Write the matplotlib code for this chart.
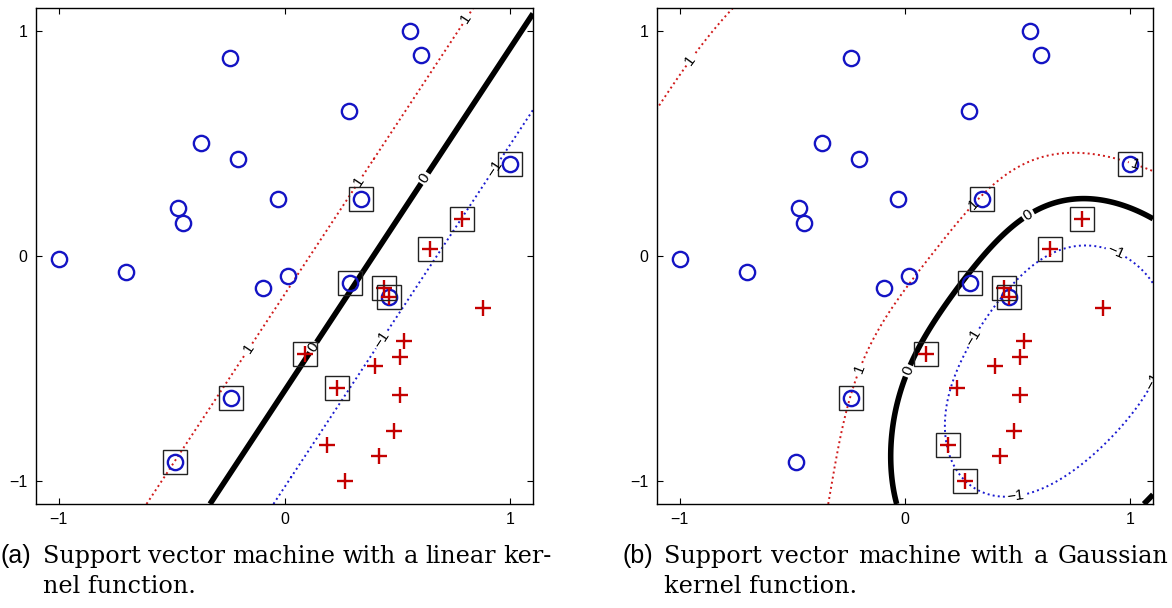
import matplotlib
matplotlib.use("Agg")
import matplotlib.pyplot as plt
import numpy as np

# ---- data points ----
circle_x = [-1.00, -0.70, -0.24, -0.37, -0.205, -0.47, -0.45, -0.03, 0.286, 0.555,
            0.605, 0.34, 1.00, 0.016, -0.095, 0.29, 0.463, -0.239, -0.485]
circle_y = [-0.015, -0.07, 0.88, 0.50, 0.43, 0.215, 0.145, 0.255, 0.645, 1.00,
            0.89, 0.255, 0.41, -0.09, -0.14, -0.12, -0.184, -0.628, -0.915]

plus_x = [0.786, 0.643, 0.44, 0.463, 0.88, 0.528, 0.51, 0.40, 0.092, 0.232,
          0.51, 0.485, 0.19, 0.42, 0.267]
plus_y = [0.162, 0.03, -0.143, -0.184, -0.232, -0.378, -0.447, -0.49, -0.434, -0.584,
          -0.618, -0.778, -0.838, -0.886, -1.00]

# support vectors (boxed points)
sv_lin_x = [0.34, 1.00, 0.29, 0.463, 0.44, -0.239, -0.485, 0.786, 0.643, 0.092, 0.232]
sv_lin_y = [0.255, 0.41, -0.12, -0.184, -0.143, -0.628, -0.915, 0.162, 0.03, -0.434, -0.584]

sv_rbf_x = [0.34, 1.00, 0.29, 0.463, 0.44, -0.239, 0.786, 0.643, 0.092, 0.19, 0.267]
sv_rbf_y = [0.255, 0.41, -0.12, -0.184, -0.143, -0.628, 0.162, 0.03, -0.434, -0.838, -1.00]

# linear decision function f = w.x + b
W_LIN = (-3.56, 2.34)
B_LIN = 1.40

# gaussian panel: points read on the 1 / 0 / -1 contours
lvl_pos_x = [-0.725, -0.93, -1.03, -1.10, -0.337, -0.32, -0.288, -0.239, -0.223, -0.126,
             -0.061, -0.029, 0.052, 0.149, 0.262, 0.34, 0.424, 0.57, 0.683, 0.78,
             0.942, 1.00, 1.10]
lvl_pos_y = [1.10, 0.85, 0.70, 0.575, -1.10, -0.99, -0.766, -0.628, -0.544, -0.351,
             -0.246, -0.17, -0.03, 0.044, 0.133, 0.255, 0.332, 0.428, 0.453, 0.457,
             0.435, 0.41, 0.369]
lvl_zero_x = [-0.037, -0.049, -0.057, -0.045, -0.029, 0.016, 0.094, 0.181, 0.278, 0.424,
              0.545, 0.78, 0.942, 1.10, 1.015, 1.10]
lvl_zero_y = [-1.10, -0.99, -0.84, -0.69, -0.603, -0.511, -0.395, -0.232, -0.059, 0.103,
              0.184, 0.265, 0.236, 0.162, -1.10, -1.005]
lvl_neg_x = [0.61, 0.78, 0.934, 1.02, 1.10, 1.10, 1.07, 0.91, 0.667, 0.489,
             0.343, 0.213, 0.173, 0.197, 0.327, 0.456, 0.52]
lvl_neg_y = [0.007, 0.06, 0.015, -0.044, -0.125, -0.47, -0.66, -0.87, -1.019, -1.056,
             -1.049, -0.915, -0.766, -0.544, -0.32, -0.187, -0.09]

# contour label spots
labels_lin = [(0.81, 1.05), (0.33, 0.33), (-0.16, -0.41), (0.629, 0.339), (0.128, -0.406),
              (0.93, 0.39), (0.43, -0.37)]
labels_rbf = [(-0.93, 0.85), (0.30, 0.236), (-0.20, -0.50), (1.02, 0.41), (0.545, 0.184),
              (0.016, -0.511), (0.934, 0.015), (0.311, -0.366), (0.489, -1.056), (1.087, -0.484)]

caption_a = ["Support vector machine with a linear ker-", "nel function."]
caption_b = ["Support vector machine with a Gaussian", "kernel function."]

BLUE = "#1414c4"
RED = "#c40000"
BLUE_L = "#1a1ad0"
RED_L = "#d01a1a"

plt.rcParams["font.family"] = ["Liberation Sans", "DejaVu Sans"]

W, H = 1172, 608
fig = plt.figure(figsize=(W / 100, H / 100), dpi=100)
ax_a = fig.add_axes([36 / W, 1 - 504 / H, 497 / W, 496 / H])
ax_b = fig.add_axes([657 / W, 1 - 504 / H, 496 / W, 496 / H])

g = np.linspace(-1.1, 1.1, 441)
X, Y = np.meshgrid(g, g)

F_lin = W_LIN[0] * X + W_LIN[1] * Y + B_LIN


# gaussian kernel expansion around the support vectors, fitted to the read contours
def kernel(px, py, s):
    px = np.asarray(px, float)[..., None]
    py = np.asarray(py, float)[..., None]
    d2 = (px - np.array(sv_rbf_x)) ** 2 + (py - np.array(sv_rbf_y)) ** 2
    return np.exp(-d2 / (2 * s * s))


cx = np.r_[lvl_pos_x, lvl_zero_x, lvl_neg_x]
cy = np.r_[lvl_pos_y, lvl_zero_y, lvl_neg_y]
ct = np.r_[np.ones(len(lvl_pos_x)), np.zeros(len(lvl_zero_x)), -np.ones(len(lvl_neg_x))]

best = None
for s in np.arange(0.40, 0.91, 0.05):
    A = np.column_stack([kernel(cx, cy, s), np.ones(len(cx))])
    coef = np.linalg.solve(A.T @ A + 1e-4 * np.eye(A.shape[1]), A.T @ ct)
    err = np.sum((A @ coef - ct) ** 2)
    if best is None or err < best[0]:
        best = (err, s, coef)
_, sigma, coef = best
F_rbf = kernel(X, Y, sigma) @ coef[:-1] + coef[-1]


def draw_panel(ax, F, sv_x, sv_y, label_pos):
    ax.plot(circle_x, circle_y, "o", mfc="none", mec=BLUE, ms=11, mew=1.7, zorder=3)
    ax.plot(plus_x, plus_y, "+", color=RED, ms=11.5, mew=1.7, zorder=3)
    ax.plot(sv_x, sv_y, "s", mfc="none", mec="#222222", ms=17, mew=1.0, zorder=4)
    cs = ax.contour(X, Y, F, levels=[-1, 0, 1], colors=[BLUE_L, "k", RED_L],
                    linestyles=[":", "-", ":"], linewidths=[1.4, 4.0, 1.4], zorder=2)
    ax.clabel(cs, fmt={-1: "\u22121", 0: "0", 1: "1"}, manual=label_pos, inline=True,
              inline_spacing=2, fontsize=11, colors="k")
    ax.set_xlim(-1.1, 1.1)
    ax.set_ylim(-1.1, 1.1)
    ax.set_xticks([-1, 0, 1])
    ax.set_yticks([-1, 0, 1])
    ax.tick_params(direction="in", top=True, right=True, length=4, width=0.8,
                   labelsize=11.5, pad=6)
    for sp in ax.spines.values():
        sp.set_linewidth(1.0)


draw_panel(ax_a, F_lin, sv_lin_x, sv_lin_y, labels_lin)
draw_panel(ax_b, F_rbf, sv_rbf_x, sv_rbf_y, labels_rbf)

# captions: sans tag, serif text, first line justified
rend = fig.canvas.get_renderer()
SERIF = ["DejaVu Serif"]

# size the serif text so the (a) first line spans its width in the reference
probe = fig.text(0, 0, caption_a[0], fontsize=16, family=SERIF)
CAP_SIZE = 16 * (551 - 43) / probe.get_window_extent(rend).width
probe.remove()


def caption(tag, lines, x_tag, x0, x1, y1, y2, size):
    fig.text(x_tag / W, 1 - y1 / H, tag, fontsize=18, va="baseline")
    words = lines[0].split()
    texts = [fig.text(0, 1 - y1 / H, w, fontsize=size, family=SERIF, va="baseline")
             for w in words]
    widths = [t.get_window_extent(rend).width for t in texts]
    gap = (x1 - x0 - sum(widths)) / (len(words) - 1)
    x = x0
    for t, w in zip(texts, widths):
        t.set_x(x / W)
        x += w + gap
    fig.text(x0 / W, 1 - y2 / H, lines[1], fontsize=size, family=SERIF, va="baseline")


caption("(a)", caption_a, 1, 43, 551, 563, 593, CAP_SIZE)
caption("(b)", caption_b, 622, 664, 1168, 563, 593, CAP_SIZE)

fig.savefig("out.png", dpi=100)
